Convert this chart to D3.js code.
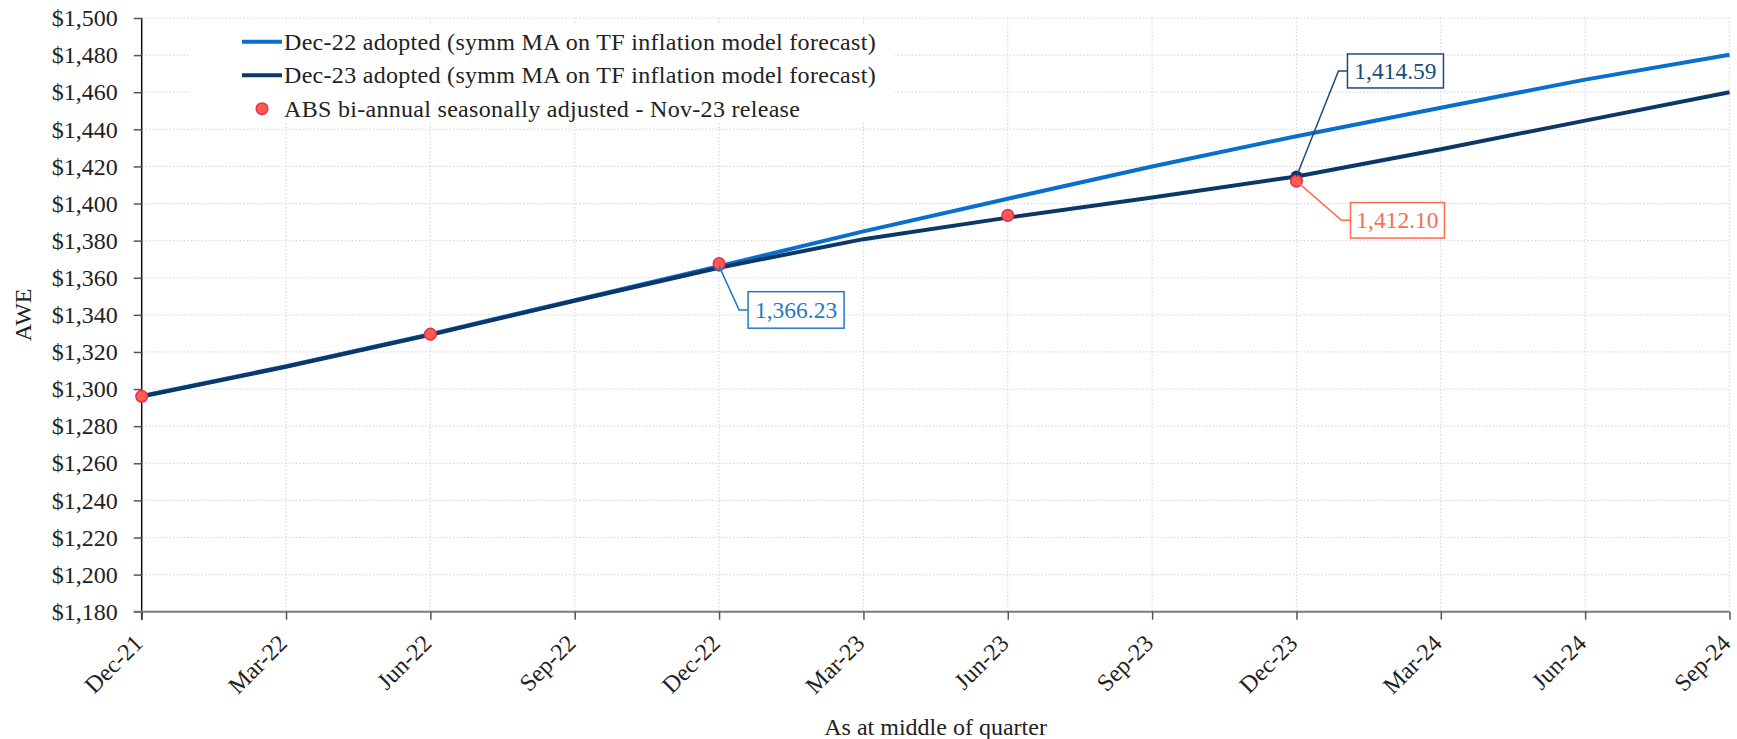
<!DOCTYPE html>
<html>
<head>
<meta charset="utf-8">
<script src="https://cdn.jsdelivr.net/npm/d3@7"></script>
<style>
  html, body { margin: 0; padding: 0; background: #fff; }
  svg { display: block; font-family: "Liberation Serif", "Times New Roman", serif; }
</style>
</head>
<body>
<svg id="chart" width="1737" height="739"></svg>
<script>
// Quarter labels (middle of quarter)
const quarters = ["Dec-21","Mar-22","Jun-22","Sep-22","Dec-22","Mar-23","Jun-23","Sep-23","Dec-23","Mar-24","Jun-24","Sep-24"];

// Dec-22 adopted forecast (symmetric MA on TF inflation model forecast)
const dec22Adopted = [1296.3, 1312.3, 1329.6, 1347.9, 1366.23, 1385.0, 1402.6, 1420.0, 1436.3, 1451.6, 1466.8, 1480.2];

// Dec-23 adopted forecast
const dec23Adopted = [1296.0, 1312.0, 1329.3, 1347.6, 1365.4, 1380.8, 1392.4, 1403.3, 1414.59, 1429.3, 1444.7, 1460.0];

// ABS bi-annual seasonally adjusted AWE (Nov-23 release)
const absQuarters = ["Dec-21","Jun-22","Dec-22","Jun-23","Dec-23"];
const absValues   = [1296.1, 1329.6, 1367.6, 1393.6, 1412.10];

// Y axis ticks
const yTicks = [1180,1200,1220,1240,1260,1280,1300,1320,1340,1360,1380,1400,1420,1440,1460,1480,1500];

const seriesNames = [
  "Dec-22 adopted (symm MA on TF inflation model forecast)",
  "Dec-23 adopted (symm MA on TF inflation model forecast)",
  "ABS bi-annual seasonally adjusted - Nov-23 release"
];

const C_LIGHT = "#0a6fcc";
const C_DARK  = "#0b3866";
const C_ABS_FILL = "#ff5c4d";
const C_ABS_STROKE = "#ec2a55";
const C_LABEL_LIGHT = "#2777c6";
const C_LABEL_DARK = "#1d4a78";
const C_LABEL_ABS = "#ff6b4f";
const FONT = 24;

const svg = d3.select("#chart");
const plot = { left: 141.7, right: 1729.5, top: 18, bottom: 611.7 };

const x = d3.scalePoint().domain(quarters).range([plot.left, plot.right]).padding(0);
const y = d3.scaleLinear().domain([1180, 1500]).range([plot.bottom, plot.top]);

const fmtMoney = d => "$" + d3.format(",")(d);
const fmtLabel = d3.format(",.2f");

// Gridlines (dotted)
const grid = svg.append("g");
grid.selectAll("line.h").data(yTicks.filter(d => d !== 1180)).join("line")
  .attr("x1", plot.left).attr("x2", plot.right)
  .attr("y1", d => y(d)).attr("y2", d => y(d))
  .attr("stroke", "#d9d9d9").attr("stroke-width", 1.2).attr("stroke-dasharray", "1.5,2");
grid.selectAll("line.v").data(quarters.slice(1)).join("line")
  .attr("x1", d => x(d)).attr("x2", d => x(d))
  .attr("y1", plot.top).attr("y2", plot.bottom)
  .attr("stroke", "#d9d9d9").attr("stroke-width", 1.2).attr("stroke-dasharray", "1.5,2");

// Y axis
const yAxis = svg.append("g")
  .attr("transform", `translate(${plot.left},0)`)
  .call(d3.axisLeft(y).tickValues(yTicks).tickFormat(fmtMoney).tickSize(8).tickPadding(16));
yAxis.select(".domain").attr("stroke", "#111").attr("stroke-width", 1.5)
  .attr("d", `M0,${plot.top}V${plot.bottom + 8}`);
yAxis.selectAll(".tick line").attr("stroke", "#555").attr("stroke-width", 1.5);
yAxis.selectAll(".tick text").attr("font-size", FONT).attr("fill", "#222")
  .attr("font-family", "Liberation Serif");

// X axis
const xAxis = svg.append("g")
  .attr("transform", `translate(0,${plot.bottom})`)
  .call(d3.axisBottom(x).tickSize(8).tickPadding(6));
xAxis.select(".domain").attr("stroke", "#7a7a7a").attr("stroke-width", 2)
  .attr("d", `M${plot.left - 8},0H${plot.right}`);
xAxis.selectAll(".tick line").attr("stroke", "#555").attr("stroke-width", 1.5);
xAxis.selectAll(".tick text")
  .attr("font-size", FONT).attr("fill", "#222").attr("font-family", "Liberation Serif")
  .attr("text-anchor", "end")
  .attr("y", 0).attr("dy", 0)
  .attr("transform", "translate(2,33) rotate(-45)");

// Axis titles
svg.append("text").attr("x", (plot.left + plot.right) / 2).attr("y", 735)
  .attr("text-anchor", "middle").attr("font-size", FONT).attr("fill", "#222")
  .text("As at middle of quarter");
svg.append("text").attr("transform", `translate(31,${(plot.top + plot.bottom) / 2}) rotate(-90)`)
  .attr("text-anchor", "middle").attr("font-size", FONT).attr("fill", "#222")
  .text("AWE");

// Lines
const line = d3.line().x((d, i) => x(quarters[i])).y(d => y(d));
svg.append("path").datum(dec22Adopted).attr("d", line)
  .attr("fill", "none").attr("stroke", C_LIGHT).attr("stroke-width", 4).attr("stroke-linejoin", "round");
svg.append("path").datum(dec23Adopted).attr("d", line)
  .attr("fill", "none").attr("stroke", C_DARK).attr("stroke-width", 4).attr("stroke-linejoin", "round");

// Labelled points on the forecast lines
const iDec22 = quarters.indexOf("Dec-22");
const iDec23 = quarters.indexOf("Dec-23");
svg.append("circle").attr("cx", x("Dec-22")).attr("cy", y(dec22Adopted[iDec22])).attr("r", 5.5).attr("fill", C_LIGHT);
svg.append("circle").attr("cx", x("Dec-23")).attr("cy", y(dec23Adopted[iDec23])).attr("r", 6).attr("fill", C_DARK);

// ABS markers
svg.append("g").selectAll("circle").data(absValues).join("circle")
  .attr("cx", (d, i) => x(absQuarters[i])).attr("cy", d => y(d)).attr("r", 5.8)
  .attr("fill", C_ABS_FILL).attr("stroke", C_ABS_STROKE).attr("stroke-width", 1.5);

// Data label callouts
function callout(px, py, bx, by, w, h, text, color) {
  const g = svg.append("g");
  g.append("path")
    .attr("d", `M${px},${py}L${bx - 9},${by + h / 2}L${bx},${by + h / 2}`)
    .attr("fill", "none").attr("stroke", color).attr("stroke-width", 1.5);
  g.append("rect").attr("x", bx).attr("y", by).attr("width", w).attr("height", h)
    .attr("fill", "#fff").attr("stroke", color).attr("stroke-width", 1.5);
  g.append("text").attr("x", bx + w / 2).attr("y", by + h / 2).attr("dy", "0.34em")
    .attr("text-anchor", "middle").attr("font-size", 23.5).attr("fill", color).text(text);
}
{
  const v = dec22Adopted[iDec22], px = x("Dec-22"), py = y(v);
  callout(px, py, px + 29, py + 25.5, 96, 36.5, fmtLabel(v), C_LABEL_LIGHT);
}
{
  const v = dec23Adopted[iDec23], px = x("Dec-23"), py = y(v);
  callout(px, py, px + 51, py - 122.5, 96, 34, fmtLabel(v), C_LABEL_DARK);
}
{
  const iA = absQuarters.indexOf("Dec-23");
  const v = absValues[iA], px = x("Dec-23"), py = y(v);
  callout(px, py, px + 54, py + 21.5, 94, 35.5, fmtLabel(v), C_LABEL_ABS);
}

// Legend
const legend = svg.append("g");
legend.append("rect").attr("x", 190).attr("y", 25).attr("width", 705).attr("height", 96).attr("fill", "#fff");
const legendRows = [
  { name: seriesNames[0], type: "line", color: C_LIGHT },
  { name: seriesNames[1], type: "line", color: C_DARK },
  { name: seriesNames[2], type: "dot" }
];
legendRows.forEach((r, i) => {
  const cy = 41.7 + i * 33.5;
  if (r.type === "line") {
    legend.append("line").attr("x1", 242).attr("x2", 282).attr("y1", cy).attr("y2", cy)
      .attr("stroke", r.color).attr("stroke-width", 4);
  } else {
    legend.append("circle").attr("cx", 262).attr("cy", cy).attr("r", 5.8)
      .attr("fill", C_ABS_FILL).attr("stroke", C_ABS_STROKE).attr("stroke-width", 1.5);
  }
  legend.append("text").attr("x", 284).attr("y", cy).attr("dy", "0.34em")
    .attr("font-size", FONT).attr("letter-spacing", 0.3).attr("fill", "#222").text(r.name);
});
</script>
</body>
</html>
